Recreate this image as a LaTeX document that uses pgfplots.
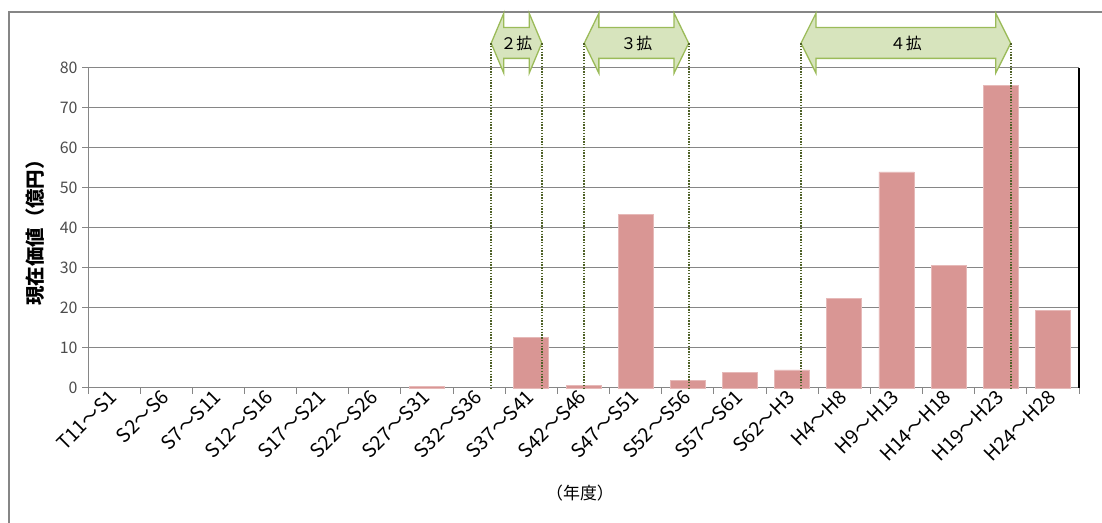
\documentclass[border=0pt]{standalone}
\usepackage{fontspec}
\setmainfont{Noto Sans CJK JP}
\usepackage{pgfplots}
\pgfplotsset{compat=1.18}
\definecolor{barc}{HTML}{D99694}
\definecolor{baredge}{HTML}{E6B9B8}
\definecolor{gridc}{HTML}{868686}
\definecolor{arrfill}{HTML}{D7E4BD}
\definecolor{arredge}{HTML}{9BBB59}
\definecolor{dotc}{HTML}{4F6228}
\newcommand{\blockarrow}[4]{%
  \fill[arrfill] (axis cs:#1,86.2) -- (axis cs:#1+#4,93.7) -- (axis cs:#1+#4,90.1) -- (axis cs:#2-#4,90.1) -- (axis cs:#2-#4,93.7) -- (axis cs:#2,86.2) -- (axis cs:#2-#4,78.7) -- (axis cs:#2-#4,82.4) -- (axis cs:#1+#4,82.4) -- (axis cs:#1+#4,78.7) -- cycle;
  \draw[arredge, line width=1.3bp, line join=miter] (axis cs:#1,86.2) -- (axis cs:#1+#4,93.7) -- (axis cs:#1+#4,90.1) -- (axis cs:#2-#4,90.1) -- (axis cs:#2-#4,93.7) -- (axis cs:#2,86.2) -- (axis cs:#2-#4,78.7) -- (axis cs:#2-#4,82.4) -- (axis cs:#1+#4,82.4) -- (axis cs:#1+#4,78.7) -- cycle;
  \draw[dotc, line width=1.8bp, dash pattern=on 1.4bp off 1.4bp] (axis cs:#1,86.2) -- (axis cs:#1,0);
  \draw[dotc, line width=1.8bp, dash pattern=on 1.4bp off 1.4bp] (axis cs:#2,86.2) -- (axis cs:#2,0);
  \node[font=\fontsize{16}{16}\selectfont] at (axis cs:{(#1+#2)/2},86.2) {#3};
}
\begin{document}
\begin{tikzpicture}[x=1bp,y=1bp]
\useasboundingbox (0,0) rectangle (1102,523);
\draw[gridc, line width=2bp] (9,0) -- (9,510.5) -- (1102,510.5);
\begin{axis}[
  at={(88bp,135bp)}, anchor=south west,
  width=991bp, height=320bp, scale only axis,
  xmin=-0.5, xmax=18.5, ymin=0, ymax=80,
  clip=false,
  axis x line*=bottom, axis y line*=left,
  axis line style={gridc, line width=1bp},
  ybar, bar width=0.67,
  xtick={0,...,18},
  xticklabels={T11～S1,S2～S6,S7～S11,S12～S16,S17～S21,S22～S26,S27～S31,S32～S36,S37～S41,S42～S46,S47～S51,S52～S56,S57～S61,S62～H3,H4～H8,H9～H13,H14～H18,H19～H23,H24～H28},
  major x tick style={draw=none},
  minor xtick={-0.5,0.5,...,18.5},
  minor x tick style={gridc, line width=1bp},
  minor tick length=6bp,
  ytick={0,10,...,80},
  major y tick style={gridc, line width=1bp},
  major tick length=6bp,
  tick align=outside,
  ymajorgrids,
  grid style={gridc, line width=1bp},
  /pgf/number format/assume math mode=true,
  yticklabel style={font=\fontsize{16}{16}\selectfont, text=black!70, xshift=-1bp},
  xticklabel style={font=\fontsize{19.5}{19.5}\selectfont, rotate=45, anchor=east, xshift=3bp, yshift=1bp},
  ylabel={\bfseries 現在価値（億円）},
  ylabel style={font=\fontsize{19.5}{19.5}\selectfont, at={(axis description cs:-0.0535,0.5)}, anchor=center},
  xlabel={（年度）},
  xlabel style={font=\fontsize{17}{17}\selectfont, at={(axis description cs:0.4965,-0.328)}, anchor=center},
]
\addplot[fill=barc, draw=baredge, line width=0.8bp] coordinates {
 (6,0.3) (8,12.7) (9,0.6) (10,43.3) (11,1.8) (12,3.8) (13,4.5)
 (14,22.4) (15,54.0) (16,30.7) (17,75.7) (18,19.3)
};
\draw[black, line width=1.2bp] (axis cs:18.5,0) -- (axis cs:18.5,80);
\blockarrow{7.23}{8.20}{２拡}{0.242}
\blockarrow{9.015}{11.016}{３拡}{0.28}
\blockarrow{13.17}{17.19}{４拡}{0.288}
\end{axis}
\end{tikzpicture}
\end{document}
